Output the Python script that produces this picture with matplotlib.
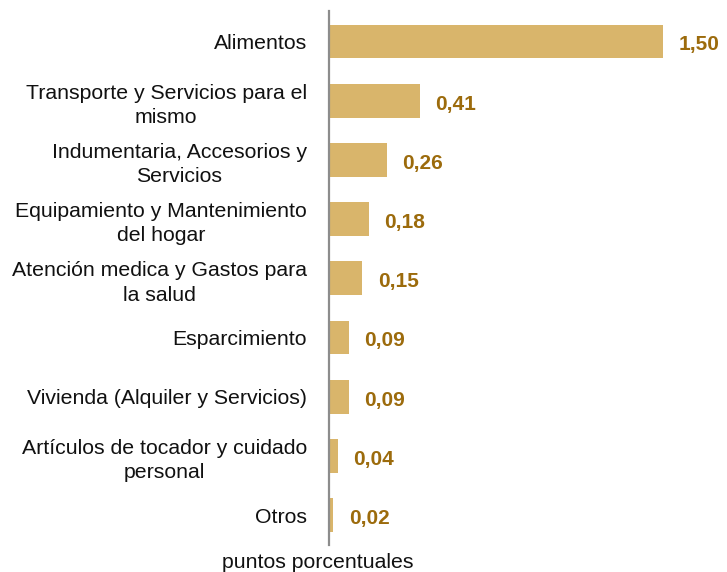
import matplotlib
matplotlib.use("Agg")
import matplotlib.pyplot as plt

categories = [
    "Alimentos",
    "Transporte y Servicios para el\nmismo",
    "Indumentaria, Accesorios y\nServicios",
    "Equipamiento y Mantenimiento\ndel hogar",
    "Atención medica y Gastos para\nla salud",
    "Esparcimiento",
    "Vivienda (Alquiler y Servicios)",
    "Artículos de tocador y cuidado\npersonal",
    "Otros",
]
values = [1.50, 0.41, 0.26, 0.18, 0.15, 0.09, 0.09, 0.04, 0.02]
value_labels = ["1,50", "0,41", "0,26", "0,18", "0,15", "0,09", "0,09", "0,04", "0,02"]
xlabel = "puntos porcentuales"

plt.rcParams['font.family'] = ['Liberation Sans', 'DejaVu Sans']

W, H = 727, 572
fig = plt.figure(figsize=(W / 100, H / 100), dpi=100)
ax = fig.add_axes([329 / W, 1 - 545 / H, 1 - 329 / W, (545 - 11) / H])

bar_color = "#D9B56B"
lab_color = "#9C6B0C"

y = list(range(len(categories)))
ax.barh(y, values, height=0.57, color=bar_color)
ax.set_ylim(8.505, -0.515)
ax.set_xlim(0, (W - 329) / 222.7)

for yi, v, lab in zip(y, values, value_labels):
    ax.annotate(lab, (v, yi), xytext=(11, -2.5), textcoords="offset points",
                ha="left", va="center", fontsize=15, fontweight="bold",
                color=lab_color, annotation_clip=False)

ax.set_yticks(y)
ax.set_yticklabels(categories, fontsize=15.3, color="#111111", ha="right",
                   multialignment="center", linespacing=1.35)
ax.tick_params(axis="y", length=0, pad=16)
ax.set_xticks([])

for s in ["top", "right", "bottom"]:
    ax.spines[s].set_visible(False)
ax.spines["left"].set_color("#8C8C8C")
ax.spines["left"].set_linewidth(1.6)

fig.text(317.5 / W, 1 - 563 / H, xlabel, ha="center", va="center",
         fontsize=15.3, color="#111111")

fig.savefig("out.png", dpi=100)
